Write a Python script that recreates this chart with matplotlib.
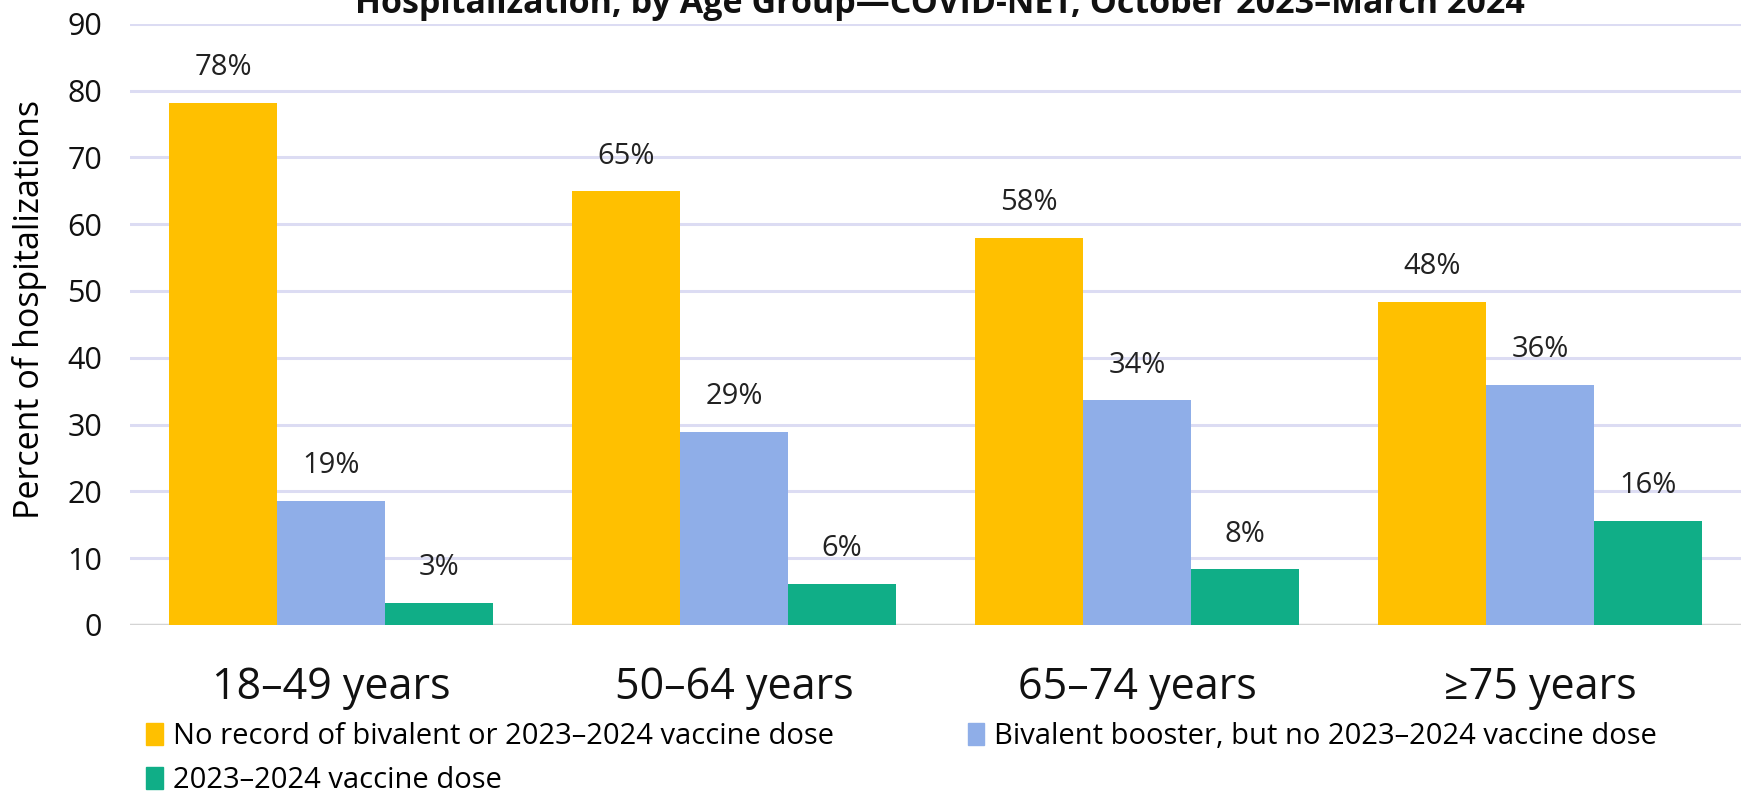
import numpy as np
import matplotlib
matplotlib.use("Agg")
import matplotlib.pyplot as plt
from matplotlib.patches import Patch

plt.rcParams['font.family'] = ['Open Sans', 'DejaVu Sans']

# Percent of hospitalizations by vaccination status and age group
age_groups = ['18–49 years', '50–64 years', '65–74 years', '≥75 years']
series_names = ['No record of bivalent or 2023–2024 vaccine dose',
                'Bivalent booster, but no 2023–2024 vaccine dose',
                '2023–2024 vaccine dose']
no_record = [78.2, 64.9, 57.9, 48.3]
bivalent_only = [18.6, 28.9, 33.6, 35.9]
updated_dose = [3.3, 6.1, 8.3, 15.6]
colors = ['#FFC000', '#8FAEE8', '#10AE87']

title = 'Hospitalization, by Age Group—COVID-NET, October 2023–March 2024'

fig = plt.figure(figsize=(17.44, 7.92), dpi=100)
ax = fig.add_axes([0.0745, 0.211, 0.924, 0.759])

x = np.arange(len(age_groups))
width = 0.268
handles = []
for i, (vals, c) in enumerate(zip([no_record, bivalent_only, updated_dose], colors)):
    bars = ax.bar(x + (i - 1) * width, vals, width, color=c, zorder=3)
    for b, v in zip(bars, vals):
        ax.annotate(f'{v:.0f}%', (b.get_x() + b.get_width() / 2, v),
                    xytext=(0, 15), textcoords='offset points',
                    ha='center', va='bottom', fontsize=21, color='#222222')
    handles.append(Patch(color=c))

ax.set_xlim(-0.5, 3.5)
ax.set_ylim(0, 90)
ax.set_yticks(np.arange(0, 91, 10))
ax.set_xticks(x)
ax.set_xticklabels(age_groups, fontsize=31)
ax.tick_params(axis='x', length=0, pad=29, colors='#111111')
ax.tick_params(axis='y', length=0, pad=20, labelsize=22, colors='#111111')
ax.set_ylabel('Percent of hospitalizations', fontsize=24.5)
ax.yaxis.set_label_coords(-0.0515, 0.525)

ax.grid(axis='y', color='#dcdcf3', linewidth=2.2, zorder=0)
for s in ['top', 'right', 'left', 'bottom']:
    ax.spines[s].set_visible(False)
ax.axhline(0, color='#d4d4d4', linewidth=2.5, zorder=2)

# bottom of a multi-line title, upper lines fall off the canvas
fig.text(0.539, 0.984, title, ha='center', va='baseline',
         fontsize=24.5, fontweight='bold', color='#111111')

# legend entries fill columns first, so reorder to get two per row
order = [0, 2, 1]
fig.legend([handles[i] for i in order], [series_names[i] for i in order],
           ncol=2, loc='upper left', bbox_to_anchor=(0.084, 0.088),
           frameon=False, fontsize=21, handlelength=0.55, handleheight=0.8,
           handletextpad=0.35, columnspacing=4.6, labelspacing=0.5,
           borderaxespad=0, borderpad=0)

fig.savefig('out.png', dpi=100)
